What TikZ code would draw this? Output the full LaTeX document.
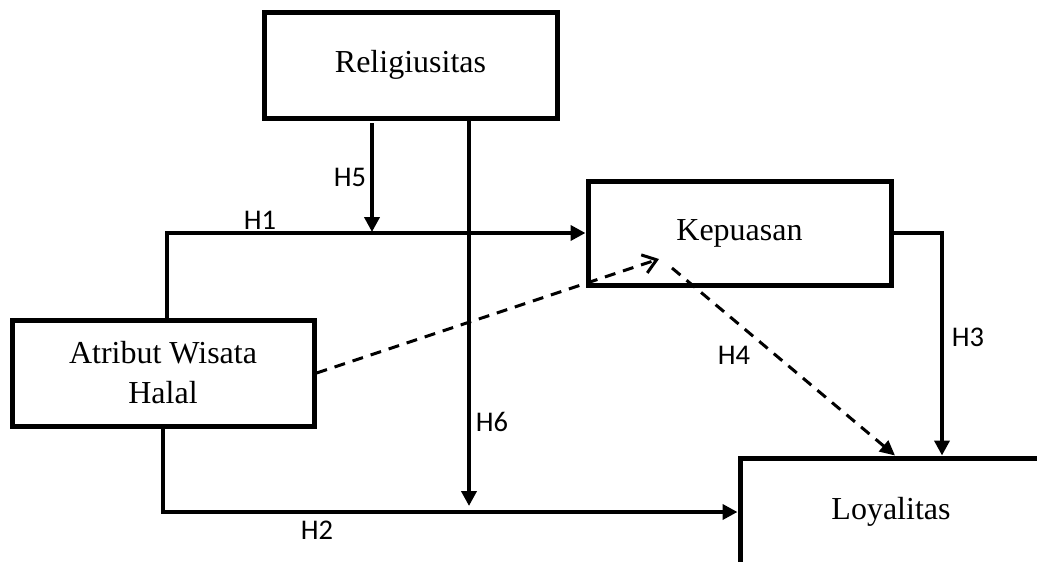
\documentclass[tikz,border=0pt]{standalone}
\usepackage{fontspec}
\setmainfont{Liberation Serif}
\newfontfamily\lblfont{Carlito}
\usetikzlibrary{arrows.meta}
\tikzset{
  box/.style={draw, line width=5pt, rectangle, inner sep=0pt, font=\fontsize{32}{40}\selectfont, align=center},
  conn/.style={line width=4.2pt, -{Triangle[length=15pt,width=15pt]}},
  dashconn/.style={line width=3pt, dash pattern=on 11pt off 8pt},
  lbl/.style={font=\lblfont\fontsize{28.5}{32}\selectfont, inner sep=0pt}
}
\begin{document}
\begin{tikzpicture}[x=1pt,y=-1pt]
\useasboundingbox (0,0) rectangle (1037,562);
\clip (0,0) rectangle (1037,562);
% boxes
\node[box, minimum width=293pt, minimum height=106pt] (rel) at (410.5,65) {Religiusitas};
\node[box, minimum width=303pt, minimum height=104pt] (kp) at (739.5,233) {Kepuasan};
\node[box, minimum width=302pt, minimum height=106pt] (at) at (163,373) {Atribut Wisata\\Halal};
\node[box, minimum width=302pt, minimum height=108pt] (ly) at (891,512) {Loyalitas};
% coordinates
\coordinate (h5top) at (372,123);
\coordinate (h5end) at (372,232);
\coordinate (h6end) at (469,506);
\coordinate (dashend) at (659,259);
\coordinate (h4start) at (672,268);
% connectors
\draw[conn] ([xshift=4pt]at.north) |- (kp.west);
\draw[conn] (h5top) -- (h5end);
\draw[conn] (rel.south -| h6end) -- (h6end);
\draw[conn] (at.south) |- (ly.west);
\draw[conn] (kp.east) -| ([xshift=51pt]ly.north);
\draw[dashconn, -{Straight Barb[length=13pt,width=19pt]}] (at.east) -- (dashend);
\draw[dashconn, -{Triangle[length=15pt,width=14pt]}] (h4start) -- ([xshift=4pt]ly.north);
% labels
\node[lbl] (l1) at (260,220) {H1};
\node[lbl] (l5) at (350,177) {H5};
\node[lbl] (l6) at (492,422) {H6};
\node[lbl] (l4) at (734,355) {H4};
\node[lbl] (l3) at (968,337) {H3};
\node[lbl] (l2) at (317,530) {H2};
\end{tikzpicture}
\end{document}
